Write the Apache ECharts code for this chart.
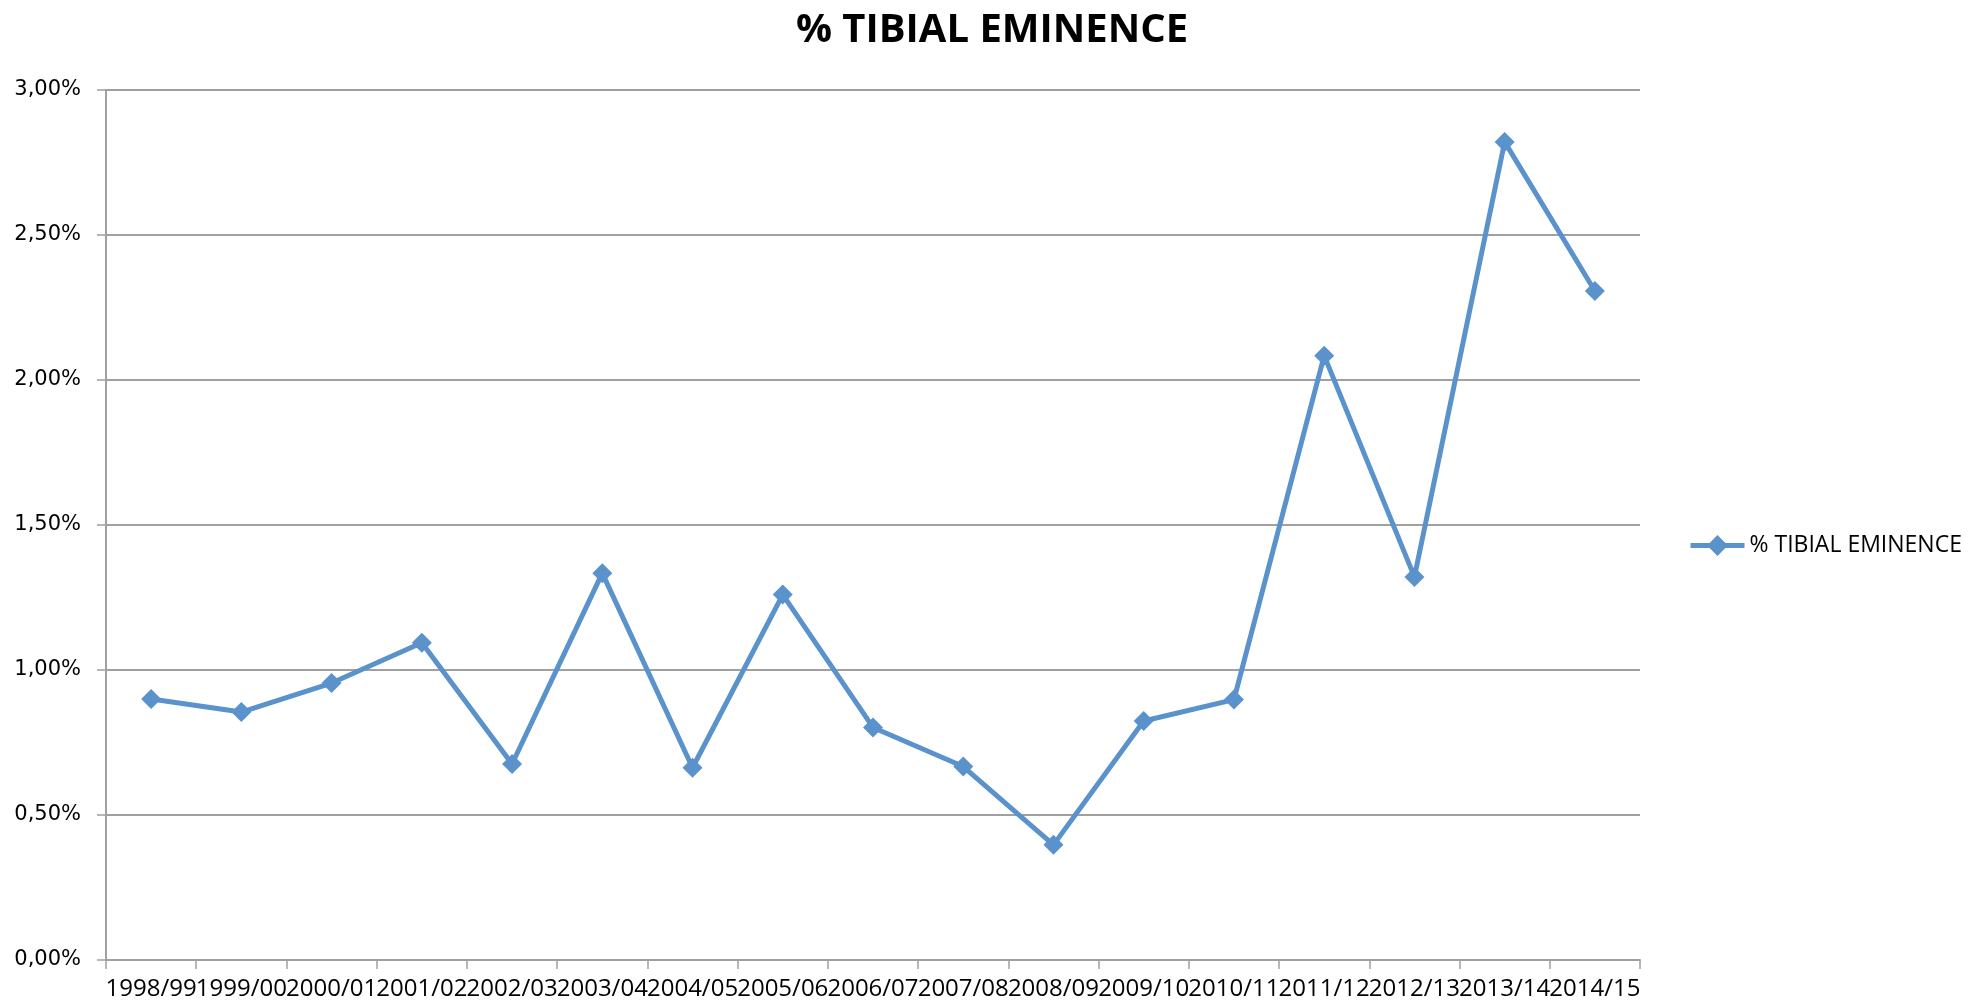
<!DOCTYPE html>
<html>
<head>
<meta charset="utf-8">
<script src="https://cdn.jsdelivr.net/npm/echarts@6/dist/echarts.min.js"></script>
<style>
html,body{margin:0;padding:0;background:#fff;}
#chart{width:1984px;height:1008px;}
</style>
</head>
<body>
<div id="chart"></div>
<script>
var seasons = ['1998/99','1999/00','2000/01','2001/02','2002/03','2003/04','2004/05','2005/06','2006/07','2007/08','2008/09','2009/10','2010/11','2011/12','2012/13','2013/14','2014/15'];
var tibialEminence = [0.90, 0.855, 0.955, 1.094, 0.676, 1.334, 0.663, 1.260, 0.802, 0.667, 0.397, 0.824, 0.898, 2.084, 1.321, 2.821, 2.307];
var yTicks = [0, 0.5, 1, 1.5, 2, 2.5, 3];
var seriesName = '% TIBIAL EMINENCE';
var titleText = '% TIBIAL EMINENCE';

var chart = echarts.init(document.getElementById('chart'), null, {renderer: 'canvas'});
var lineColor = '#5A92CB';
var gridColor = '#A0A0A0';
chart.setOption({
  animation: false,
  backgroundColor: '#ffffff',
  title: {
    text: titleText,
    left: 'center',
    top: 6,
    textStyle: {fontFamily: 'Open Sans', fontWeight: 'bold', fontSize: 40, color: '#000'}
  },
  legend: {
    orient: 'vertical',
    left: 1683,
    top: 529,
    itemWidth: 54,
    itemHeight: 26,
    data: [seriesName],
    lineStyle: {width: 5},
    textStyle: {fontFamily: 'Open Sans', fontSize: 23, color: '#000'}
  },
  grid: {left: 106, right: 344, top: 90, bottom: 48, containLabel: false},
  xAxis: {
    type: 'category',
    data: seasons,
    boundaryGap: true,
    axisLine: {lineStyle: {color: gridColor, width: 2}},
    axisTick: {show: true, length: 9, lineStyle: {color: gridColor, width: 1.5}, alignWithLabel: false},
    axisLabel: {interval: 0, margin: 17, fontFamily: 'Open Sans', fontSize: 24, color: '#000'},
    splitLine: {show: false}
  },
  yAxis: {
    type: 'value',
    min: yTicks[0],
    max: yTicks[yTicks.length - 1],
    interval: 0.5,
    axisLine: {show: true, lineStyle: {color: gridColor, width: 2}},
    axisTick: {show: true, length: 9, lineStyle: {color: gridColor, width: 1.5}},
    axisLabel: {
      margin: 25,
      fontFamily: 'DejaVu Sans',
      fontSize: 21,
      color: '#000',
      formatter: function (v) { return v.toFixed(2).replace('.', ',') + '%'; }
    },
    splitLine: {show: true, lineStyle: {color: gridColor, width: 2}}
  },
  series: [{
    name: seriesName,
    type: 'line',
    data: tibialEminence,
    symbol: 'diamond',
    symbolSize: 20,
    showAllSymbol: true,
    itemStyle: {color: lineColor},
    lineStyle: {color: lineColor, width: 5}
  }]
});
</script>
</body>
</html>
